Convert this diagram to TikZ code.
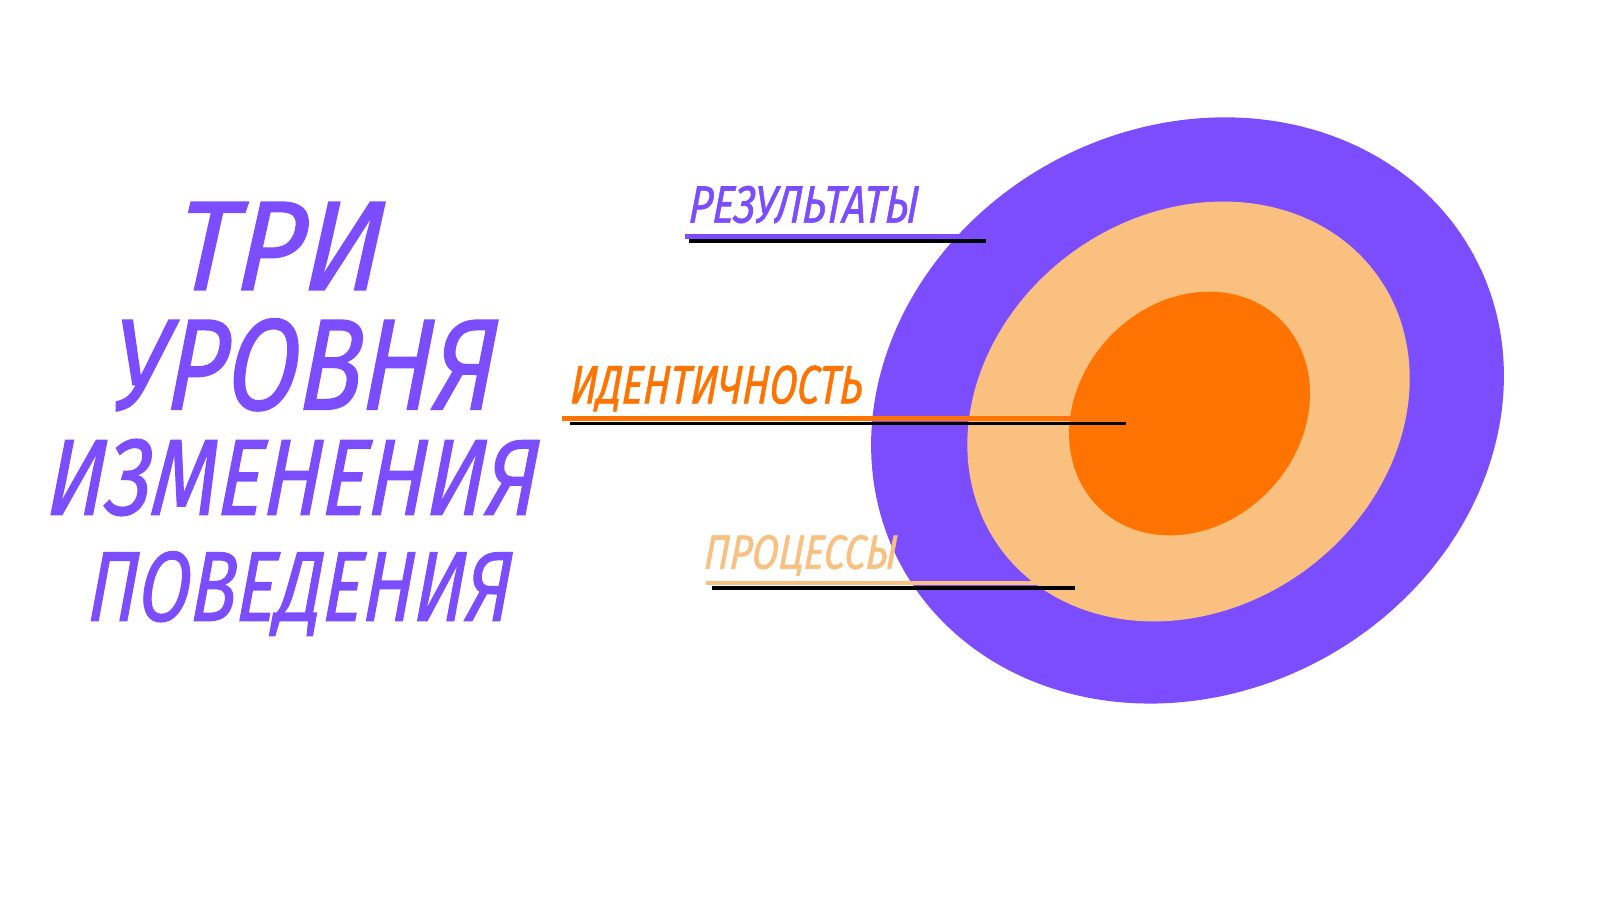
\documentclass[tikz,border=0pt]{standalone}
\usepackage{fontspec}
\newfontfamily\handfont{Fira Sans Italic}[FakeSlant=0.1, FakeBold=1.2]
\definecolor{violet}{HTML}{7B4DFF}
\definecolor{peach}{HTML}{F9C080}
\definecolor{tangerine}{HTML}{FF7300}
\newlength\px
\setlength\px{0.01021cm}
\newcommand{\hand}[3]{\resizebox{#1\px}{#2\px}{\handfont #3}}
% tilted oval: colour, centre x, centre y, half axes a, b, tilt
\newcommand{\ring}[6]{%
  \fill[#1] plot[domain=0:360, samples=90, smooth cycle]
    ({#2+#4*cos(\x)*cos(#6)-#5*sin(\x)*sin(#6)},
     {#3-#4*cos(\x)*sin(#6)-#5*sin(\x)*cos(#6)});}
\tikzset{
  under/.style={line width=1.4pt},
  shadow/.style={line width=1pt, black},
  word/.style={inner sep=0pt, anchor=base west}
}
\begin{document}
\begin{tikzpicture}[x=\px,y=-\px]
  \fill[white] (0,0) rectangle (1567,881.5);
  % circles
  \ring{violet}{1163}{402}{319}{277}{28.5}
  \ring{peach}{1164}{403}{228}{193}{35.8}
  \ring{tangerine}{1165}{405}{128}{108.5}{47}
  % title
  \node[word, text=violet] (tri) at (170,284) {\hand{203}{86}{ТРИ}};
  \node[word, text=violet] (urovnya) at (106,401) {\hand{378}{89}{УРОВНЯ}};
  \node[word, text=violet] (izmeneniya) at (44,504) {\hand{481}{74}{ИЗМЕНЕНИЯ}};
  \node[word, text=violet] (povedeniya) at (84,608) {\hand{415}{68}{ПОВЕДЕНИЯ}};
  % labels
  \node[word, text=violet] (rezultaty) at (673,218) {\hand{225}{36}{РЕЗУЛЬТАТЫ}};
  \node[word, text=tangerine] (identichnost) at (557,395) {\hand{286}{37}{ИДЕНТИЧНОСТЬ}};
  \node[word, text=peach] (processy) at (688,557) {\hand{189}{33}{ПРОЦЕССЫ}};
  % underlines
  \coordinate (r1) at (671,232); \coordinate (r2) at (945,232);
  \coordinate (r3) at (675,236); \coordinate (r4) at (966,236);
  \coordinate (i1) at (550,410); \coordinate (i2) at (1050,410);
  \coordinate (i3) at (558,415); \coordinate (i4) at (1103,415);
  \coordinate (p1) at (691,571); \coordinate (p2) at (1015,571);
  \coordinate (p3) at (697,576); \coordinate (p4) at (1053,576);
  \draw[shadow] (r3) -- (r4);
  \draw[under, violet] (r1) -- (r2);
  \draw[shadow] (i3) -- (i4);
  \draw[under, tangerine] (i1) -- (i2);
  \draw[shadow] (p3) -- (p4);
  \draw[under, peach] (p1) -- (p2);
\end{tikzpicture}
\end{document}
